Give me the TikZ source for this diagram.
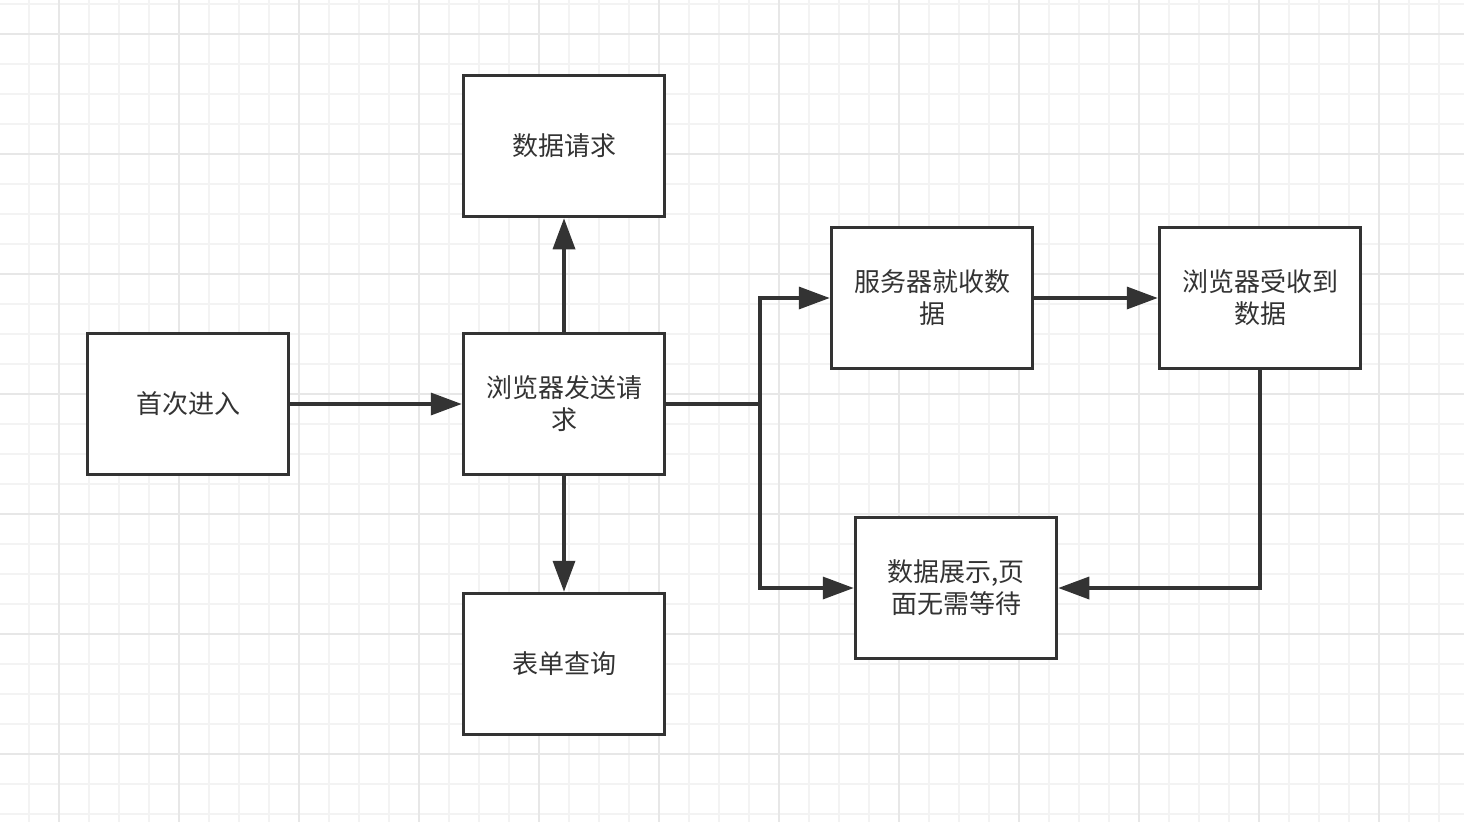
\documentclass[tikz,border=0pt]{standalone}
\usepackage{fontspec}
\setmainfont{Noto Sans CJK SC}
\usetikzlibrary{arrows.meta,positioning}
\definecolor{ink}{HTML}{333333}
\definecolor{minorgrid}{HTML}{F3F3F3}
\definecolor{majorgrid}{HTML}{E7E7E7}
\tikzset{
  box/.style={draw=ink, fill=white, line width=3.5pt, rectangle, minimum width=201pt, minimum height=141pt, inner sep=0pt, align=center, text=ink, font=\fontsize{26}{32}\selectfont},
  conn/.style={draw=ink, line width=3.5pt, -{Triangle[length=31pt,width=22pt]}},
  plain/.style={draw=ink, line width=3.5pt}
}
\begin{document}
\begin{tikzpicture}[x=1pt,y=-1pt]
\useasboundingbox (0,0) rectangle (1464,822);
\fill[white] (0,0) rectangle (1464,822);
% minor grid
\foreach \x in {29,59,...,1464} \draw[minorgrid, line width=2pt] (\x,0) -- (\x,822);
\foreach \y in {4,34,...,822} \draw[minorgrid, line width=2pt] (0,\y) -- (1464,\y);
% major grid
\foreach \x in {59,179,...,1464} \draw[majorgrid, line width=2.5pt] (\x,0) -- (\x,822);
\foreach \y in {34,154,...,822} \draw[majorgrid, line width=2.5pt] (0,\y) -- (1464,\y);

\node[box] (first) at (188,404) {\raisebox{-2pt}{首次进入}};
\node[box] (browser) at (564,404) {\raisebox{-2pt}{浏览器发送请}\\\raisebox{-2pt}{求}};
\node[box] (req) at (564,146) {\raisebox{-2pt}{数据请求}};
\node[box] (form) at (564,664) {\raisebox{-2pt}{表单查询}};
\node[box] (server) at (932,298) {\raisebox{-2pt}{服务器就收数}\\\raisebox{-2pt}{据}};
\node[box] (recv) at (1260,298) {\raisebox{-2pt}{浏览器受收到}\\\raisebox{-2pt}{数据}};
\node[box] (show) at (956,588) {\raisebox{-2pt}{数据展示,页}\\\raisebox{-2pt}{面无需等待}};
\coordinate (j) at (760,404);

\draw[conn] (first) -- (browser);
\draw[conn] (browser) -- (req);
\draw[conn] (browser) -- (form);
\draw[plain] (browser.east) -- (j);
\draw[conn] (j) |- (server.west);
\draw[conn] (j) |- (show.west);
\draw[conn] (server) -- (recv);
\draw[conn] (recv.south) |- (show.east);
\end{tikzpicture}
\end{document}
